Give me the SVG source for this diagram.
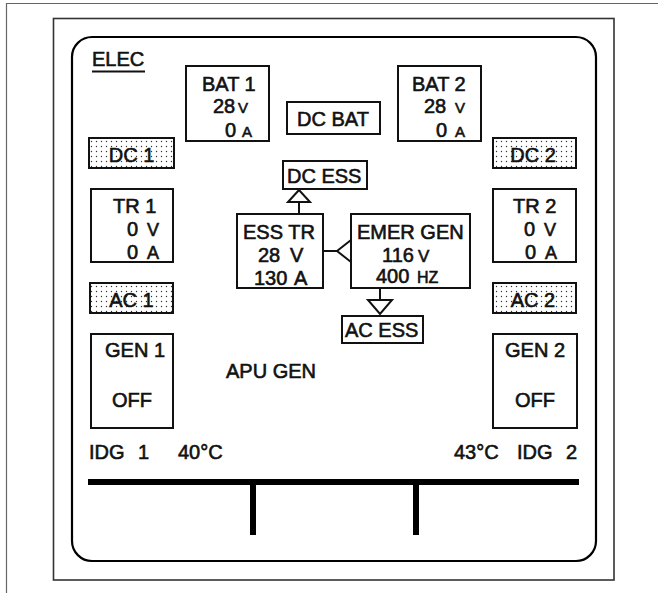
<svg xmlns="http://www.w3.org/2000/svg" width="658" height="593" viewBox="0 0 658 593">
<defs>
<pattern id="dots" width="5" height="5" patternUnits="userSpaceOnUse">
<rect width="5" height="5" fill="#fff"/>
<circle cx="1.5" cy="1.5" r="0.7" fill="#333"/>
</pattern>
<style>
text{font-family:"Liberation Sans",Arial,Helvetica,sans-serif;font-size:20px;fill:#111;stroke:#111;stroke-width:0.6;}
.box{fill:#fff;stroke:#111;stroke-width:2;}
.dot{fill:url(#dots);stroke:#111;stroke-width:2;}
.u{font-size:15px;}
.line{stroke:#111;stroke-width:2;fill:none;}
.tri{fill:#fff;stroke:#111;stroke-width:2;stroke-linejoin:miter;}
.bus{stroke:#000;stroke-width:6;fill:none;}
</style>
</defs>
<rect width="658" height="593" fill="#fff"/>
<g id="page">
<path d="M6.5 593 V3.5 H658" fill="none" stroke="#666" stroke-width="1.2"/>
<rect x="53.5" y="18.5" width="560.5" height="561.5" fill="none" stroke="#333" stroke-width="1.6"/>
<rect x="72" y="37" width="524" height="524" rx="20" ry="20" fill="none" stroke="#000" stroke-width="2.2"/>
</g>
<g id="title">
<text x="92" y="66">ELEC</text>
<line x1="92" y1="71.5" x2="145" y2="71.5" stroke="#111" stroke-width="2.2"/>
</g>
<g id="connectors">
<line class="line" x1="299" y1="214" x2="299" y2="202"/>
<polygon class="tri" points="299,190 288,202 310,202"/>
<line class="line" x1="323" y1="251" x2="337" y2="251"/>
<polygon class="tri" points="337,251 351,240 351,262"/>
<line class="line" x1="380" y1="288" x2="380" y2="300"/>
<polygon class="tri" points="368,300 392,300 380,314"/>
<line class="bus" x1="88" y1="482" x2="579" y2="482"/>
<line class="bus" x1="253" y1="482" x2="253" y2="535"/>
<line class="bus" x1="416" y1="482" x2="416" y2="535"/>
</g>
<g id="bat1">
<rect class="box" x="186" y="66" width="83" height="75"/>
<text x="202" y="91">BAT 1</text>
<text y="113"><tspan x="213">28</tspan><tspan class="u" x="238">V</tspan></text>
<text y="137"><tspan x="225">0</tspan><tspan class="u" x="242">A</tspan></text>
</g>
<g id="bat2">
<rect class="box" x="398" y="66" width="83" height="75"/>
<text x="412" y="91">BAT 2</text>
<text y="113"><tspan x="424">28</tspan><tspan class="u" x="455">V</tspan></text>
<text y="137"><tspan x="436">0</tspan><tspan class="u" x="455">A</tspan></text>
</g>
<g id="dcbat">
<rect class="box" x="287" y="102" width="93" height="32"/>
<text x="297" y="126">DC BAT</text>
</g>
<g id="dc1">
<rect class="dot" x="89" y="138" width="85" height="30"/>
<text x="131.5" y="162" text-anchor="middle">DC 1</text>
</g>
<g id="dc2">
<rect class="dot" x="493" y="138" width="83" height="30"/>
<text x="533" y="162" text-anchor="middle">DC 2</text>
</g>
<g id="dcess">
<rect class="box" x="283" y="161" width="84" height="28"/>
<text x="287" y="183">DC ESS</text>
</g>
<g id="tr1">
<rect class="box" x="91" y="189" width="82" height="73"/>
<text x="113" y="213">TR 1</text>
<text y="236"><tspan x="127">0</tspan><tspan x="147" font-size="18">V</tspan></text>
<text y="259"><tspan x="127">0</tspan><tspan x="147" font-size="18">A</tspan></text>
</g>
<g id="tr2">
<rect class="box" x="493" y="189" width="83" height="73"/>
<text x="513" y="213">TR 2</text>
<text y="236"><tspan x="524">0</tspan><tspan x="544" font-size="18">V</tspan></text>
<text y="259"><tspan x="525">0</tspan><tspan x="545" font-size="18">A</tspan></text>
</g>
<g id="esstr">
<rect class="box" x="237" y="214" width="86" height="74"/>
<text x="243" y="239">ESS TR</text>
<text y="262"><tspan x="258">28</tspan><tspan x="290">V</tspan></text>
<text y="285"><tspan x="254">130</tspan><tspan x="294">A</tspan></text>
</g>
<g id="emergen">
<rect class="box" x="351" y="214" width="119" height="74"/>
<text x="357" y="239">EMER GEN</text>
<text y="262"><tspan x="382">116</tspan><tspan x="418" font-size="17">V</tspan></text>
<text y="283"><tspan x="376">400</tspan><tspan x="417" font-size="16">HZ</tspan></text>
</g>
<g id="ac1">
<rect class="dot" x="90" y="283" width="83" height="30"/>
<text x="131.5" y="307" text-anchor="middle">AC 1</text>
</g>
<g id="ac2">
<rect class="dot" x="493" y="283" width="83" height="30"/>
<text x="533" y="307" text-anchor="middle">AC 2</text>
</g>
<g id="acess">
<rect class="box" x="342" y="316" width="81" height="27"/>
<text x="345" y="337">AC ESS</text>
</g>
<g id="gen1">
<rect class="box" x="91" y="334" width="82" height="94"/>
<text x="105" y="357">GEN 1</text>
<text x="112" y="407">OFF</text>
</g>
<g id="apugen">
<text x="226" y="378">APU GEN</text>
</g>
<g id="gen2">
<rect class="box" x="493" y="334" width="84" height="94"/>
<text x="505" y="357">GEN 2</text>
<text x="515" y="407">OFF</text>
</g>
<g id="idg1">
<text x="89" y="459">IDG<tspan x="138">1</tspan></text>
<text x="178" y="459">40°C</text>
</g>
<g id="idg2">
<text x="454" y="459">43°C</text>
<text x="517" y="459">IDG<tspan x="566">2</tspan></text>
</g>
</svg>
